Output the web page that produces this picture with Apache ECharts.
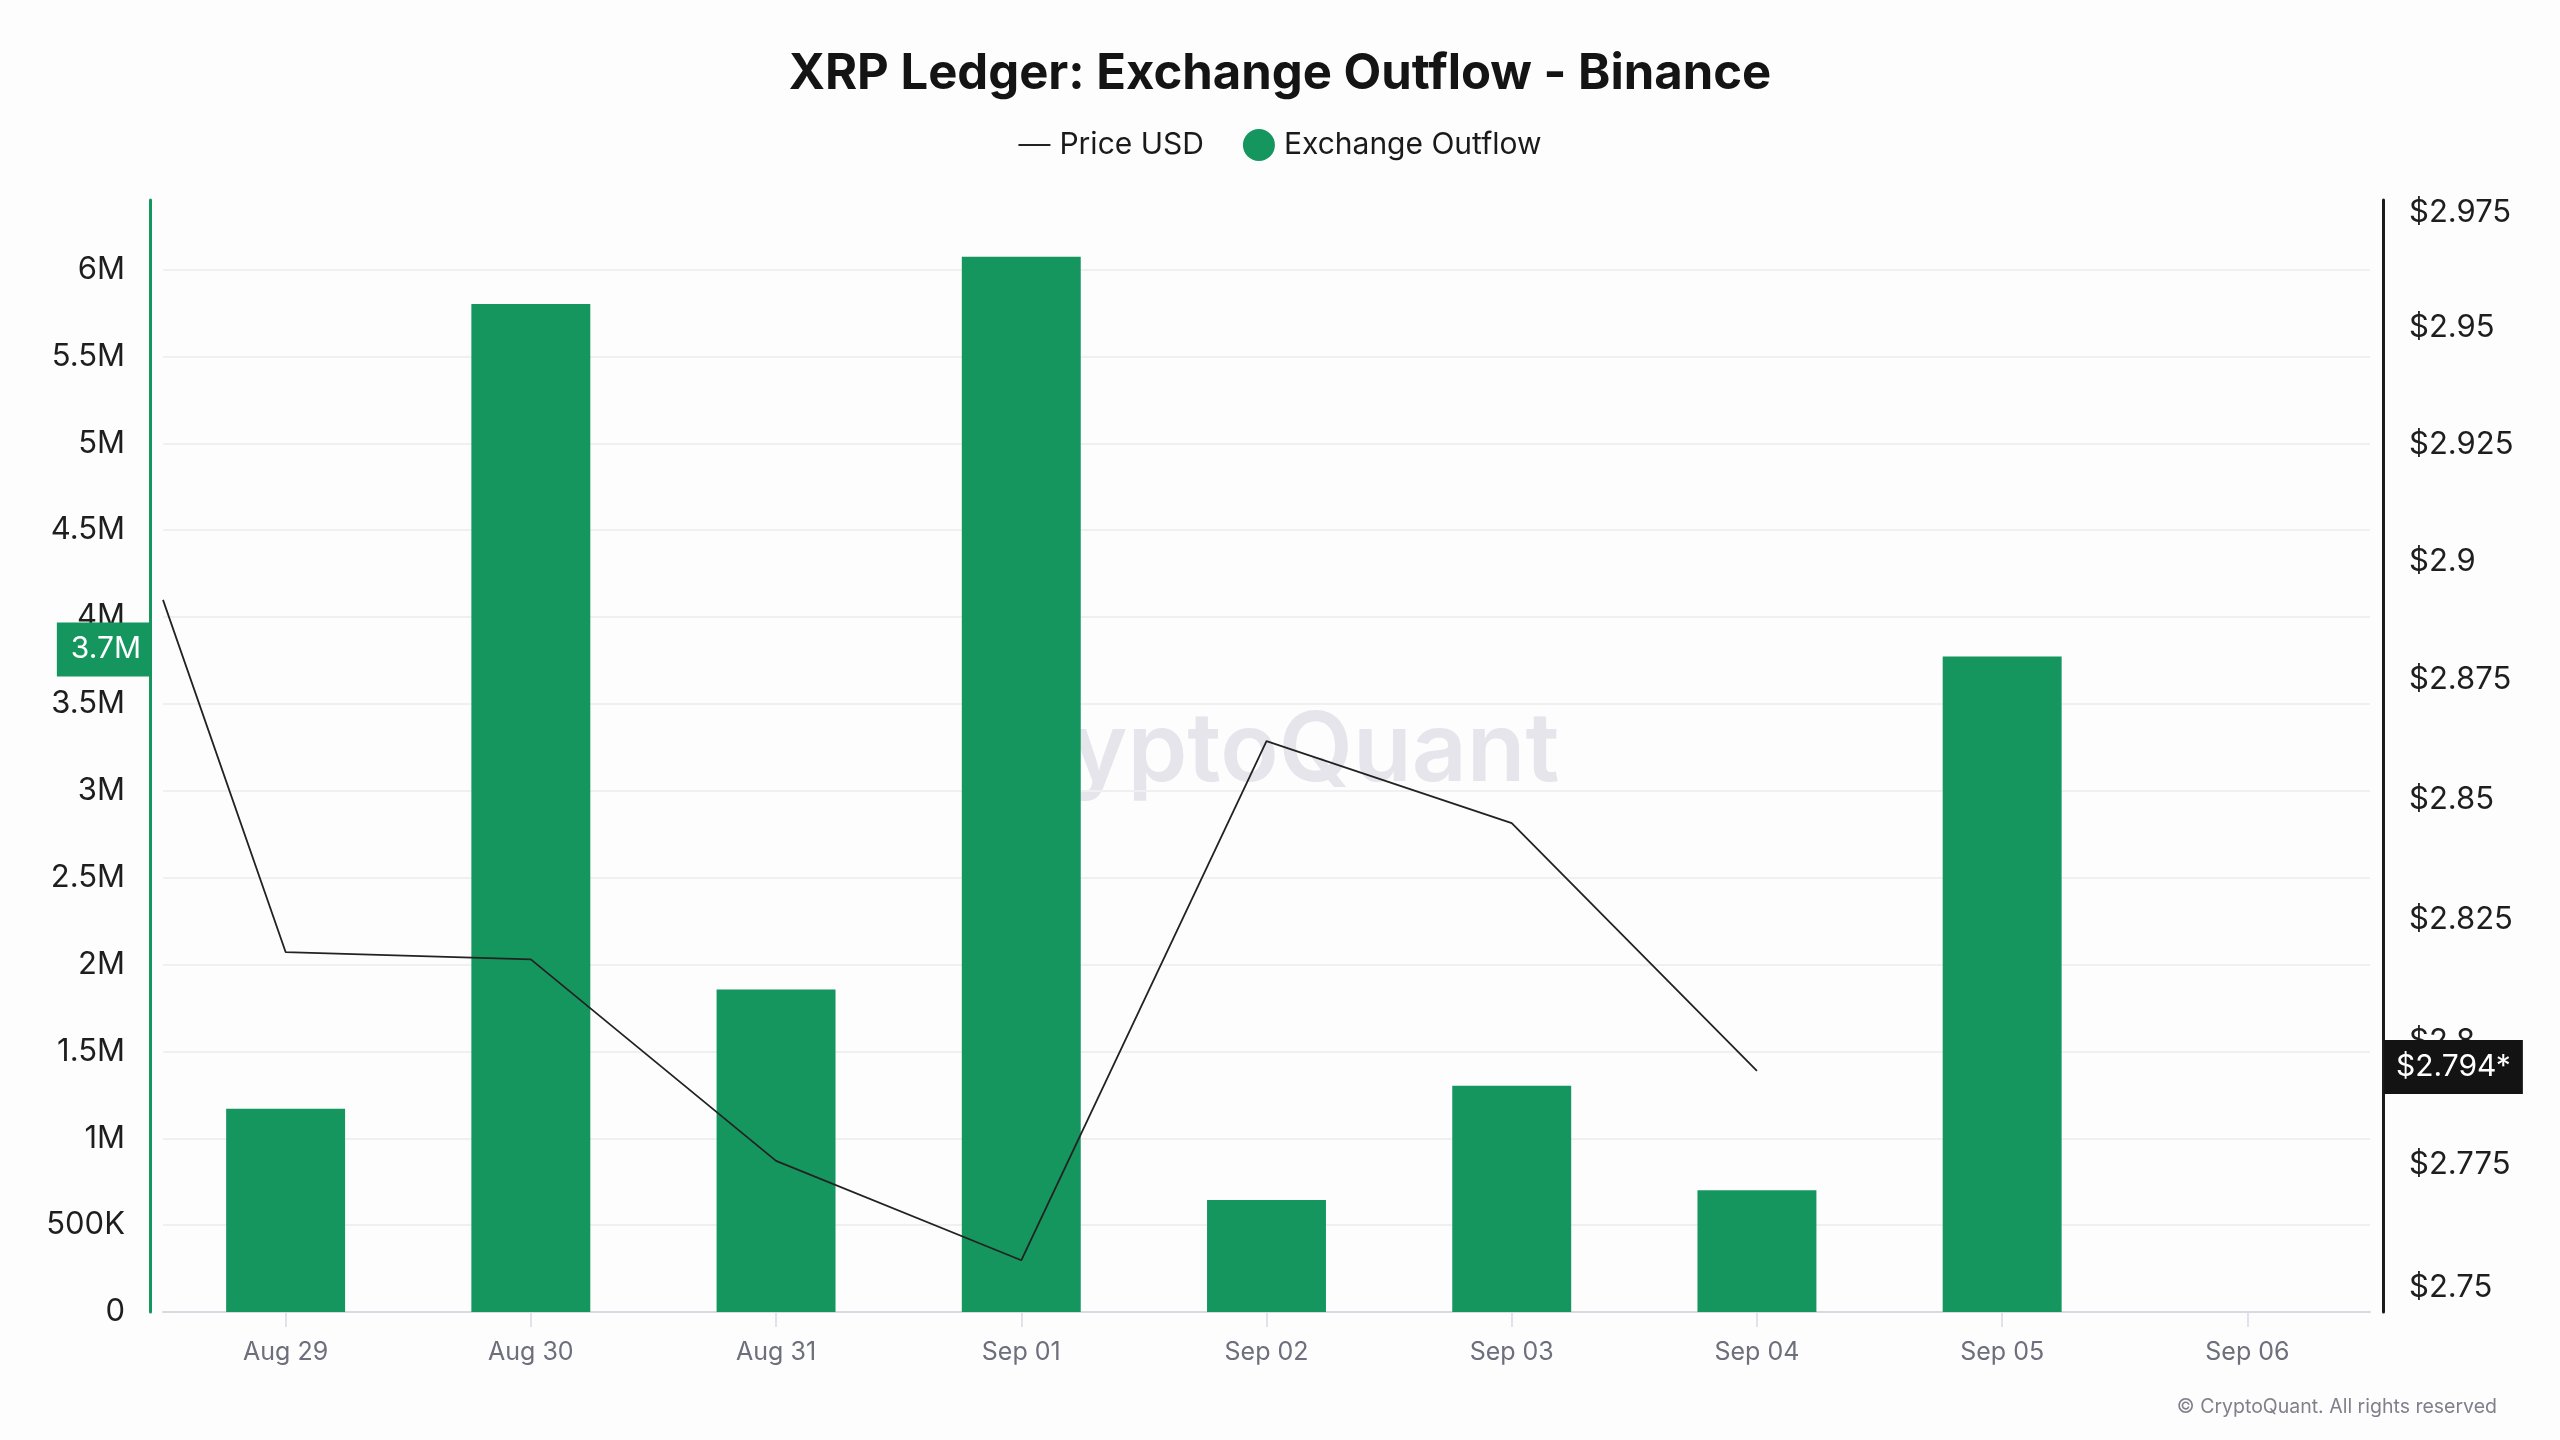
<!DOCTYPE html>
<html>
<head>
<meta charset="utf-8">
<script src="https://cdn.jsdelivr.net/npm/echarts@6/dist/echarts.min.js"></script>
<style>
html,body{margin:0;padding:0;background:#fdfdfd;}
#chart{width:2560px;height:1440px;}
</style>
</head>
<body>
<div id="chart"></div>
<script>
// ---- data ----
const categories = ['Aug 29','Aug 30','Aug 31','Sep 01','Sep 02','Sep 03','Sep 04','Sep 05','Sep 06'];
const outflow = [1170000, 5801000, 1856000, 6074000, 644000, 1302000, 701000, 3773000, null];
// price points: position on the day axis (index, first point sits at the left edge) and value
const priceX = [-0.5, 0, 1, 2, 3, 4, 5, 6];
const priceUSD = [2.8919, 2.8184, 2.8169, 2.7757, 2.7556, 2.8622, 2.8451, 2.794];
const priceTicks = [2.75, 2.775, 2.8, 2.825, 2.85, 2.875, 2.9, 2.925, 2.95, 2.975];
const outflowBadge = '3.7M';
const priceBadge = '$2.794*';

const GREEN = '#15965f';
const FONT = 'Inter';

function fmtOutflow(v){
  if (v === 0) return '0';
  if (v < 1000000) return (v/1000) + 'K';
  return (+(v/1000000).toFixed(2)) + 'M';
}

const hiddenLine = {color: 'rgba(0,0,0,0)', width: 0};

const chart = echarts.init(document.getElementById('chart'), null, {renderer:'canvas'});
chart.setOption({
  backgroundColor: '#fdfdfd',
  animation: false,
  title: {
    text: 'XRP Ledger: Exchange Outflow - Binance',
    left: 'center',
    top: 45,
    textStyle: {fontFamily: FONT, fontSize: 49, fontWeight: 'bold', color: '#141414'}
  },
  legend: {
    top: 129,
    left: 'center',
    padding: 0,
    itemWidth: 32,
    itemHeight: 32,
    itemGap: 39,
    textStyle: {fontFamily: FONT, fontSize: 30, color: '#1a1a1a', padding: [0,0,0,4]},
    data: [
      {name: 'Price USD', icon: 'path://M0,0 H31 V2 H0 Z', itemStyle: {color: '#222'}},
      {name: 'Exchange Outflow', icon: 'circle'}
    ]
  },
  grid: {left: 163, right: 190, top: 200, bottom: 128, containLabel: false},
  xAxis: [
    {
      type: 'category',
      data: categories,
      boundaryGap: true,
      axisLine: {show: true, onZero: false, lineStyle: {color: '#d9d9e1', width: 2}},
      axisTick: {show: true, alignWithLabel: true, length: 15, lineStyle: {color: '#d9d9e1', width: 1.5}},
      axisLabel: {fontFamily: FONT, fontSize: 25, color: '#6e6e7c', margin: 28},
      splitLine: {show: false}
    },
    {
      type: 'value',
      min: -0.5,
      max: categories.length - 0.5,
      show: false,
      axisLine: {onZero: false}
    }
  ],
  yAxis: [
    {
      type: 'value',
      min: 0,
      max: 6400000,
      interval: 500000,
      offset: 13,
      axisLine: {show: true, onZero: false, lineStyle: {color: GREEN, width: 3}},
      axisTick: {show: false},
      axisLabel: {fontFamily: FONT, fontSize: 31, color: '#1e1e1e', margin: 25, showMaxLabel: false, formatter: fmtOutflow},
      splitLine: {show: true, showMaxLine: false, showMinLine: false, lineStyle: {color: '#f0f0f0', width: 2}}
    },
    {
      type: 'log',
      logBase: 10,
      position: 'right',
      min: 2.7452,
      max: 2.9777,
      offset: 13,
      axisLine: {show: true, onZero: false, lineStyle: {color: '#1b1b1b', width: 3}},
      axisTick: {show: false},
      axisLabel: {
        fontFamily: FONT, fontSize: 31, color: '#1e1e1e', margin: 26,
        customValues: priceTicks,
        formatter: v => '$' + (+(+v).toFixed(3))
      },
      splitLine: {show: false}
    }
  ],
  graphic: [
    {
      type: 'text',
      z: -1,
      silent: true,
      style: {
        text: 'CryptoQuant',
        x: 1260, y: 752,
        textAlign: 'center', textVerticalAlign: 'middle',
        fontFamily: FONT, fontSize: 96, fontWeight: 600,
        fill: '#e5e5eb'
      }
    },
    {
      type: 'text',
      silent: true,
      style: {
        text: '\u00A9 CryptoQuant. All rights reserved',
        x: 2497, y: 1407,
        textAlign: 'right', textVerticalAlign: 'middle',
        fontFamily: FONT, fontSize: 19.5, fill: '#80808c'
      }
    }
  ],
  series: [
    {
      name: 'Exchange Outflow',
      type: 'bar',
      xAxisIndex: 0,
      yAxisIndex: 0,
      data: outflow,
      barWidth: '48.5%',
      itemStyle: {color: GREEN},
      z: 2,
      markLine: {
        silent: true,
        symbol: 'none',
        precision: 6,
        lineStyle: hiddenLine,
        emphasis: {disabled: true},
        data: [{yAxis: outflow[7]}],
        label: {
          show: true,
          position: 'start',
          distance: 13,
          formatter: outflowBadge,
          fontFamily: FONT, fontSize: 30, color: '#ffffff',
          backgroundColor: GREEN,
          padding: [12, 9, 12, 14],
          offset: [0, -7]
        }
      }
    },
    {
      name: 'Price USD',
      type: 'line',
      xAxisIndex: 1,
      yAxisIndex: 1,
      data: priceX.map((x, i) => [x, priceUSD[i]]),
      showSymbol: false,
      symbol: 'none',
      clip: true,
      lineStyle: {color: '#222222', width: 1.8},
      itemStyle: {color: '#222222'},
      z: 3,
      markLine: {
        silent: true,
        symbol: 'none',
        precision: 6,
        lineStyle: hiddenLine,
        emphasis: {disabled: true},
        data: [{yAxis: priceUSD[priceUSD.length - 1]}],
        label: {
          show: true,
          position: 'end',
          distance: 14,
          formatter: priceBadge,
          fontFamily: FONT, fontSize: 30, color: '#ffffff',
          backgroundColor: '#131313',
          padding: [12, 12, 12, 12],
          offset: [0, -4]
        }
      }
    }
  ]
});
</script>
</body>
</html>
